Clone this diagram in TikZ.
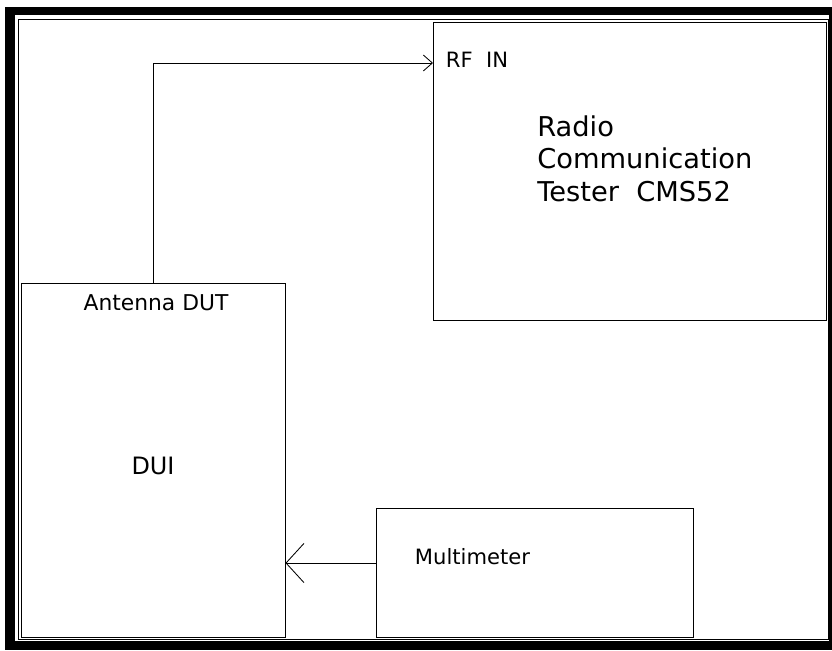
\documentclass[tikz,border=0pt]{standalone}
\usepackage{fontspec}
\setsansfont{DejaVu Sans}
\usepackage{tikz}
\usetikzlibrary{positioning,arrows.meta}

\tikzset{
  unit/.style={draw, line width=0.6pt, inner sep=0pt},
  wire/.style={line width=0.6pt},
}

\begin{document}
\begin{tikzpicture}[x=0.025cm, y=-0.025cm, font=\sffamily]
\useasboundingbox (0,0) rectangle (832,650);
% sheet frame
\fill[black] (5,7) rectangle (832,650);
\fill[white] (15,15) rectangle (829,641);
\draw[line width=0.6pt] (18,19) rectangle (828,639);
% units
\node[unit, minimum width=9.825cm, minimum height=7.45cm] (tester) at (629.5,171) {};
\node[unit, minimum width=6.6cm, minimum height=8.85cm] (dui) at (153,460) {};
\node[unit, minimum width=7.925cm, minimum height=3.225cm] (meter) at (534.5,572.5) {};
% labels
\node[anchor=west, font=\sffamily\fontsize{15}{18}\selectfont] (rfin) at (441,60) {RF\ \ IN};
\node[anchor=north west, align=left, inner sep=0pt,
      font=\sffamily\fontsize{19.4}{23.2}\selectfont] (testerlabel) at (537,115)
      {Radio\\Communication\\Tester\ \ CMS52};
\node[font=\sffamily\fontsize{15.5}{18}\selectfont] (antout) at (156,303) {Antenna DUT};
\node[font=\sffamily\fontsize{17}{20}\selectfont] (duilabel) at (153,466) {DUI};
\node[anchor=west, font=\sffamily\fontsize{15}{18}\selectfont] (meterlabel) at (410,557) {Multimeter};
% connections
\coordinate (rfport) at (433,63);
\coordinate (meterport) at (376,563);
\draw[wire, -{Straight Barb[length=6.4pt, width=11.3pt]}] (dui.north) |- (rfport);
\draw[wire, -{Straight Barb[length=12.8pt, width=28pt]}] (meterport) -- (meterport -| dui.east);
\end{tikzpicture}
\end{document}
